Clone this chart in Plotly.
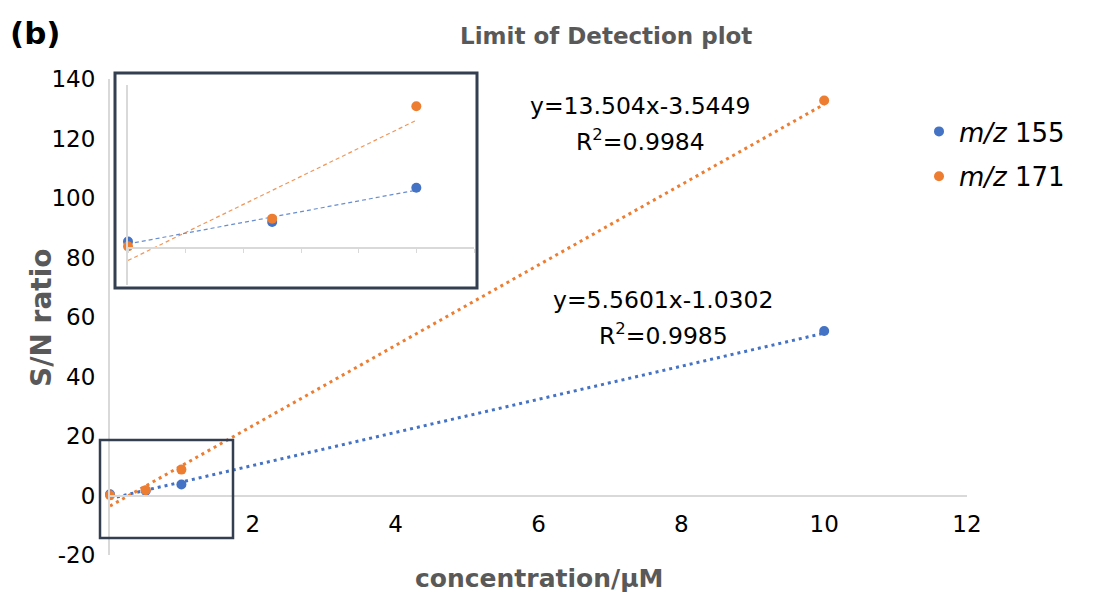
import numpy as np
import plotly.graph_objects as go

# ---- data ----
concentration = [0.0, 0.5, 1.0, 10.0]
sn_155 = [0.4, 1.6, 3.7, 55.3]
sn_171 = [0.1, 1.8, 8.7, 132.8]
series_names = ["<i>m/z</i> 155", "<i>m/z</i> 171"]
slopes = [5.5601, 13.504]
intercepts = [-1.0302, -3.5449]
r_squared = [0.9985, 0.9984]
x_ticks = [2, 4, 6, 8, 10, 12]
y_ticks = [-20, 0, 20, 40, 60, 80, 100, 120, 140]
y_tick_labels = ["-20", "0", "20", "40", "60", "80", "100", "120", "140"]

BLUE = "#4472C4"
ORANGE = "#ED7D31"
W, H = 1096, 596
FONT = "DejaVu Sans"

def fx(p):
    return p / W

def fy(p):
    return 1 - p / H

fig = go.Figure()

series = [sn_155, sn_171]
colors = [BLUE, ORANGE]

# main chart trendlines + markers
for i in range(2):
    xl = np.array([min(concentration), max(concentration)])
    fig.add_trace(go.Scatter(
        x=xl, y=slopes[i] * xl + intercepts[i], mode="lines",
        line=dict(color=colors[i], width=3, dash="3px,4px"),
        showlegend=False, hoverinfo="skip", cliponaxis=False,
        xaxis="x", yaxis="y"))
for i in range(2):
    fig.add_trace(go.Scatter(
        x=concentration, y=series[i], mode="markers",
        marker=dict(color=colors[i], size=10),
        name=series_names[i], legendgroup=f"g{i}",
        cliponaxis=False, xaxis="x", yaxis="y"))

# inset: low concentration points with their own fits
low_x = concentration[:3]
for i in range(2):
    low_y = series[i][:3]
    k, b = np.polyfit(low_x, low_y, 1)
    xl = np.array([min(low_x), max(low_x)])
    fig.add_trace(go.Scatter(
        x=xl, y=k * xl + b, mode="lines",
        line=dict(color=colors[i], width=1.2, dash="4px,3px"),
        opacity=0.8, showlegend=False, hoverinfo="skip", cliponaxis=False,
        xaxis="x2", yaxis="y2"))
for i in range(2):
    fig.add_trace(go.Scatter(
        x=low_x, y=series[i][:3], mode="markers",
        marker=dict(color=colors[i], size=10),
        showlegend=False, cliponaxis=False, xaxis="x2", yaxis="y2"))

# geometry
main_x_dom = [fx(110), fx(967)]
main_y_dom = [fy(555), fy(79)]
y_range = [-20, 140]
zero_pos = main_y_dom[0] + (0 - y_range[0]) / (y_range[1] - y_range[0]) * (main_y_dom[1] - main_y_dom[0])

in_x_dom = [fx(128), fx(474)]
in_y_dom = [fy(285), fy(85)]
in_y_range = [-2.27, 10.0]
in_zero = in_y_dom[0] + (0 - in_y_range[0]) / (in_y_range[1] - in_y_range[0]) * (in_y_dom[1] - in_y_dom[0])

AXIS_GRAY = "#D9D9D9"

fig.update_layout(
    width=W, height=H, autosize=False,
    margin=dict(l=0, r=0, t=0, b=0),
    paper_bgcolor="white", plot_bgcolor="rgba(0,0,0,0)",
    font=dict(family=FONT, color="black"),
    xaxis=dict(domain=main_x_dom, range=[0, 12], anchor="free", position=zero_pos,
               showline=True, linecolor=AXIS_GRAY, linewidth=2, showgrid=False,
               zeroline=False, tickvals=x_ticks, ticks="", ticklabelstandoff=8,
               tickfont=dict(size=23, color="black", family=FONT), automargin=False),
    yaxis=dict(domain=main_y_dom, range=y_range, anchor="x",
               showline=True, linecolor=AXIS_GRAY, linewidth=2, showgrid=False,
               zeroline=False, tickvals=y_ticks, ticktext=y_tick_labels, ticks="",
               ticklabelstandoff=8,
               tickfont=dict(size=23, color="black", family=FONT), automargin=False),
    xaxis2=dict(domain=in_x_dom, range=[0, 1.2], anchor="free", position=in_zero,
                showline=True, linecolor=AXIS_GRAY, linewidth=1.5, showgrid=False,
                zeroline=False, dtick=0.2, tick0=0, ticks="outside", ticklen=4,
                tickcolor=AXIS_GRAY, showticklabels=False, automargin=False),
    yaxis2=dict(domain=in_y_dom, range=in_y_range, anchor="x2",
                showline=True, linecolor=AXIS_GRAY, linewidth=1.5, showgrid=False,
                zeroline=False, ticks="", showticklabels=False, automargin=False),
    legend=dict(x=fx(919), y=fy(108), xanchor="left", yanchor="top",
                font=dict(size=26, color="black", family=FONT),
                tracegroupgap=8, bgcolor="rgba(0,0,0,0)"),
    showlegend=True,
)

# boxes
fig.add_shape(type="rect", xref="paper", yref="paper",
              x0=fx(115), x1=fx(477), y0=fy(288), y1=fy(73),
              line=dict(color="#333F50", width=3), fillcolor="rgba(0,0,0,0)", layer="above")
fig.add_shape(type="rect", xref="paper", yref="paper",
              x0=fx(100), x1=fx(233), y0=fy(538), y1=fy(440),
              line=dict(color="#333F50", width=2.5), fillcolor="rgba(0,0,0,0)", layer="above")

# texts
GRAY = "#595959"
fig.add_annotation(x=fx(8), y=fy(33), xref="paper", yref="paper", text="<b>(b)</b>",
                   showarrow=False, xanchor="left", yanchor="middle",
                   font=dict(size=31, color="black", family=FONT))
fig.add_annotation(x=fx(606), y=fy(36), xref="paper", yref="paper",
                   text="<b>Limit of Detection plot</b>", showarrow=False,
                   xanchor="center", yanchor="middle",
                   font=dict(size=23, color=GRAY, family=FONT))
fig.add_annotation(x=fx(539), y=fy(578), xref="paper", yref="paper",
                   text="<b>concentration/μM</b>", showarrow=False,
                   xanchor="center", yanchor="middle",
                   font=dict(size=25, color=GRAY, family=FONT))
fig.add_annotation(x=fx(42), y=fy(318), xref="paper", yref="paper",
                   text="<b>S/N ratio</b>", showarrow=False, textangle=-90,
                   xanchor="center", yanchor="middle",
                   font=dict(size=28, color=GRAY, family=FONT))

eq_pos = [(663, 300, 334), (640, 106, 140)]
for i in range(2):
    cx, y1, y2 = eq_pos[i]
    sign = "-" if intercepts[i] < 0 else "+"
    fig.add_annotation(x=fx(cx), y=fy(y1), xref="paper", yref="paper",
                       text=f"y={slopes[i]}x{sign}{abs(intercepts[i])}",
                       showarrow=False, xanchor="center", yanchor="middle",
                       font=dict(size=23.5, color="black", family=FONT))
    fig.add_annotation(x=fx(cx), y=fy(y2), xref="paper", yref="paper",
                       text=f"R<sup>2</sup>={r_squared[i]}",
                       showarrow=False, xanchor="center", yanchor="middle",
                       font=dict(size=23.5, color="black", family=FONT))

fig.write_html("out.html")
